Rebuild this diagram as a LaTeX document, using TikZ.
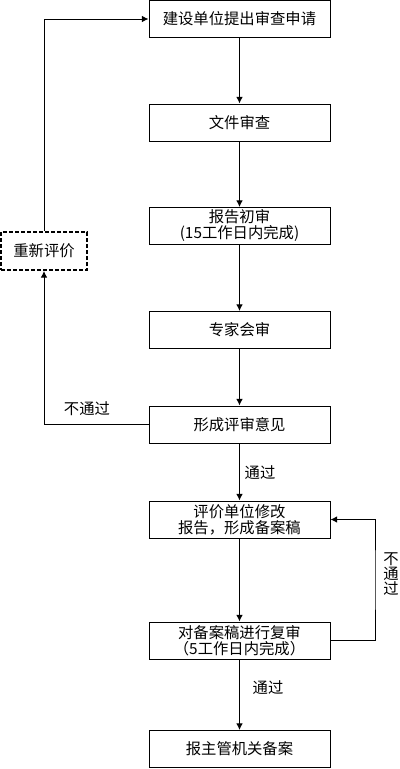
\documentclass[tikz,border=0pt]{standalone}
\usepackage{fontspec}
\setmainfont{Noto Sans CJK SC}
\usetikzlibrary{arrows.meta}

\begin{document}
\begin{tikzpicture}[x=0.75pt,y=-0.75pt,
    box/.style={draw,line width=0.75pt,minimum width=135.75pt,minimum height=27.75pt,
      align=center,inner sep=1pt,font=\fontsize{11.5}{12}\selectfont},
    flow/.style={-{Latex[length=5pt,width=5pt]},line width=0.75pt},
    lbl/.style={font=\fontsize{11.5}{11.5}\selectfont}]
    \def\cx{239.5}
    \useasboundingbox (0,0) rectangle (400,769);

    % BOXES
    \node[box] (apply) at (\cx,19) {建设单位提出审查申请};
    \node[box] (files) at (\cx,122.5) {文件审查};
    \node[box] (first) at (\cx,226) {报告初审\\(15工作日内完成)};
    \node[box] (expert) at (\cx,330) {专家会审};
    \node[box] (opinion) at (\cx,424.5) {形成评审意见};
    \node[box] (revise) at (\cx,519.5) {评价单位修改\\报告，形成备案稿};
    \node[box] (recheck) at (\cx,640.5) {对备案稿进行复审\\（5工作日内完成）};
    \node[box] (record) at (\cx,749) {报主管机关备案};
    \node[box,dashed,dash pattern=on 3pt off 1.5pt,line width=1.5pt,
      minimum width=64.5pt,minimum height=28.5pt] (redo) at (44,251) {重新评价};
    \coordinate (R) at (375,580);

    % LABELS
    \node[lbl] (fail1) at (87,409) {不通过};
    \node[lbl] (pass1) at (260,473) {通过};
    \node[lbl] (pass2) at (268,688) {通过};
    \node[lbl,align=center,font=\fontsize{11.5}{11}\selectfont] (fail2) at (391,574) {不\\通\\过};

    % ARROWS
    \draw[flow] (apply) -- (files);
    \draw[flow] (files) -- (first);
    \draw[flow] (first) -- (expert);
    \draw[flow] (expert) -- (opinion);
    \draw[flow] (opinion) -- (revise);
    \draw[flow] (revise) -- (recheck);
    \draw[flow] (recheck) -- (record);
    \draw[flow] (opinion.west) -| (redo.south);
    \draw[flow] (redo.north) |- (apply.west);
    \draw[flow] (recheck.east) -| (R) |- (revise.east);
  \end{tikzpicture}
\end{document}
